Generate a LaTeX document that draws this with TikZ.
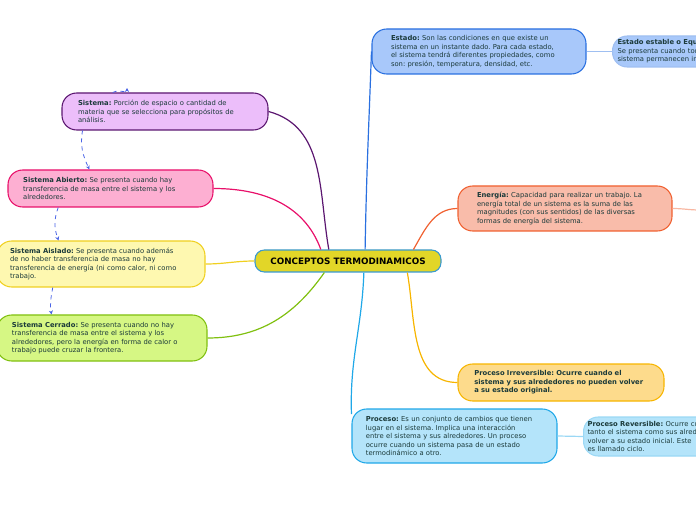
\documentclass[tikz,border=0pt]{standalone}
\usepackage{fontspec}
\setmainfont{DejaVu Sans}
\usepackage{xcolor}
\usetikzlibrary{arrows.meta}
\frenchspacing

\definecolor{txt}{HTML}{1B3A3A}
\definecolor{cMain}{HTML}{3A9AD0}  \definecolor{fMain}{HTML}{E2D628}
\definecolor{cEst}{HTML}{2A70E0}  \definecolor{fEst}{HTML}{A8C8FA}
\definecolor{cEne}{HTML}{F06030}  \definecolor{fEne}{HTML}{F9BCAA}
\definecolor{cIrr}{HTML}{F7B500}  \definecolor{fIrr}{HTML}{FDDB8C}
\definecolor{cPro}{HTML}{20A8E8}  \definecolor{fPro}{HTML}{B4E4FA}
\definecolor{cSis}{HTML}{5B1670}  \definecolor{fSis}{HTML}{ECBEFA}
\definecolor{cAbi}{HTML}{E8106A}  \definecolor{fAbi}{HTML}{FDAFD2}
\definecolor{cAis}{HTML}{F0D020}  \definecolor{fAis}{HTML}{FEF8B0}
\definecolor{cCer}{HTML}{80C010}  \definecolor{fCer}{HTML}{D6F784}
\definecolor{cRel}{HTML}{4A64E6}

\begin{document}
\begin{tikzpicture}[x=0.75pt, y=-0.75pt, line width=0.9pt,
  every node/.style={rounded corners=11pt, line width=0.8pt, align=left,
    text=txt, inner sep=0pt, font=\fontsize{5.1}{6.4}\selectfont\frenchspacing},
]
\tikzset{
  tema/.style 2 args={draw=#1, fill=#2},
  rel/.style={cRel, dashed, line width=0.6pt, -{Stealth[length=3pt, width=3pt]}},
}
  \useasboundingbox (0,0) rectangle (696,520);
  \clip (0,0) rectangle (696,520);

  % Nodes
  \node[tema={cMain}{fMain}, minimum width=139.5pt, minimum height=16.5pt, rounded corners=7pt, text=black,
    font=\fontsize{6.6}{8}\selectfont\bfseries] (main) at (348,261) {CONCEPTOS TERMODINAMICOS};

  \node[tema={cEst}{fEst}, minimum width=160.5pt, minimum height=33.75pt, text width=132pt] (estado) at (479,51.5)
    {\textbf{Estado:} Son las condiciones en que existe un\\sistema en un instante dado. Para cada estado,\\el sistema tendrá diferentes propiedades, como\\son: presión, temperatura, densidad, etc.};
  \node[tema={cEst!45}{fEst}, anchor=west, minimum height=23.25pt, inner xsep=3.75pt, text width=150pt] (estable) at (612,51.5)
    {\textbf{Estado estable o Equilibrio:}\\Se presenta cuando todas las propiedades del\\sistema permanecen invariables.};
  \node[tema={cEne}{fEne}, minimum width=160.5pt, minimum height=33.75pt, text width=132pt] (energia) at (565,208.5)
    {\textbf{Energía:} Capacidad para realizar un trabajo. La\\energía total de un sistema es la suma de las\\magnitudes (con sus sentidos) de las diversas\\formas de energía del sistema.};
  \node[tema={cIrr}{fIrr}, minimum width=154.5pt, minimum height=27.75pt, text width=130pt] (irrev) at (561,382.5)
    {\textbf{Proceso Irreversible: Ocurre cuando el}\\\textbf{sistema y sus alrededores no pueden volver}\\\textbf{a su estado original.}};
  \node[tema={cPro}{fPro}, minimum width=153.75pt, minimum height=40.5pt, text width=133pt] (proceso) at (454.5,436)
    {\textbf{Proceso:} Es un conjunto de cambios que tienen\\lugar en el sistema. Implica una interacción\\entre el sistema y sus alrededores. Un proceso\\ocurre cuando un sistema pasa de un estado\\termodinámico a otro.};
  \node[tema={cPro!45}{fPro}, anchor=west, minimum height=29.25pt, inner xsep=3pt, text width=150pt] (rev) at (583,436.5)
    {\textbf{Proceso Reversible:} Ocurre cuando\\tanto el sistema como sus alrededores pueden\\volver a su estado inicial. Este\\es llamado ciclo.};

  \node[tema={cSis}{fSis}, minimum width=154.5pt, minimum height=27.75pt, text width=130.5pt] (sistema) at (165,111.5)
    {\textbf{Sistema:} Porción de espacio o cantidad de\\materia que se selecciona para propósitos de\\análisis.};
  \node[tema={cAbi}{fAbi}, minimum width=153.75pt, minimum height=27.75pt, text width=131pt] (abierto) at (110.5,188.5)
    {\textbf{Sistema Abierto:} Se presenta cuando hay\\transferencia de masa entre el sistema y los\\alrededores.};
  \node[tema={cAis}{fAis}, minimum width=156pt, minimum height=34.5pt, text width=136.5pt] (aislado) at (101,264)
    {\textbf{Sistema Aislado:} Se presenta cuando además\\de no haber transferencia de masa no hay\\transferencia de energía (ni como calor, ni como\\trabajo.};
  \node[tema={cCer}{fCer}, minimum width=157.5pt, minimum height=34.5pt, text width=135pt] (cerrado) at (102,338)
    {\textbf{Sistema Cerrado:} Se presenta cuando no hay\\transferencia de masa entre el sistema y los\\alrededores, pero la energía en forma de calor o\\trabajo puede cruzar la frontera.};

  \coordinate (sigue) at (700,210);
  \coordinate (arriba) at (127,88);

  % Edges
  \draw[cSis] (main.149) to[out=100, in=-15] (sistema.east);
  \draw[cAbi] (main.157) to[out=110, in=0] (abierto.east);
  \draw[cAis] (main.west) to[out=180, in=0] (aislado.east);
  \draw[cCer] (main.206) to[out=-125, in=0] (cerrado.east);
  \draw[cEst] (main.34) to[out=89, in=-92] (estado.west);
  \draw[cEne] (main.10) to[out=60, in=180] (energia.west);
  \draw[cIrr] (main.-11) to[out=-80, in=180] (irrev.west);
  \draw[cPro] (main.-36) to[out=-92, in=92] (proceso.168);
  \draw[cEst!45] (estado.east) -- (estable.west);
  \draw[cPro!45] (proceso.east) -- (rev.west);
  \draw[cEne!45] (energia.east) to[out=0, in=180] (sigue);

  \draw[rel] (sistema.160.6) to[out=40, in=-90] (arriba);
  \draw[rel] (sistema.193) to[out=-100, in=115] (abierto.138);
  \draw[rel] (abierto.200) to[out=-110, in=110] (aislado.151);
  \draw[rel] (aislado.206) to[out=-100, in=100] (cerrado.155);

\end{tikzpicture}
\end{document}
